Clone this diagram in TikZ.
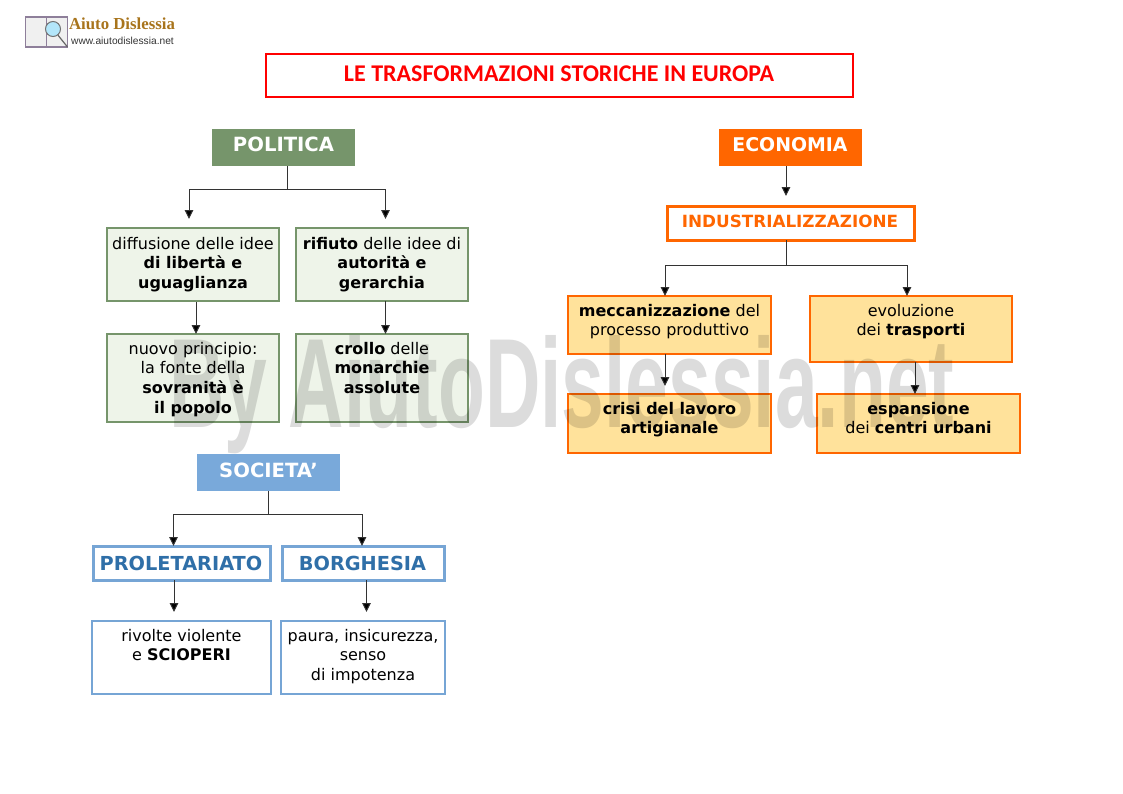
\documentclass[tikz,border=0pt]{standalone}
\usepackage{fontspec}
\usepackage{graphicx}
\setmainfont{DejaVu Sans}
\newfontfamily\titlefont{Carlito}
\newfontfamily\wmfont{Liberation Sans}
\newfontfamily\urlfont{Liberation Sans}
\newfontfamily\logofont{Liberation Serif}
\usetikzlibrary{arrows.meta}
\definecolor{redline}{HTML}{FF0000}
\definecolor{polgreen}{HTML}{76956B}
\definecolor{polfill}{HTML}{EEF4E9}
\definecolor{socblue}{HTML}{79A9DA}
\definecolor{socline}{HTML}{76A5D5}
\definecolor{soctext}{HTML}{2F6FA8}
\definecolor{ecoorange}{HTML}{FF6600}
\definecolor{ecofill}{HTML}{FFE29B}
\definecolor{wm}{HTML}{DCDCDC}
\definecolor{logogold}{HTML}{A8741C}
\definecolor{bookline}{HTML}{8E7F9A}
\newcommand{\bodyfont}{\fontsize{16}{19.6}\selectfont}
\newcommand{\headfont}{\fontsize{19.6}{22}\selectfont\bfseries}
\newcommand{\subfont}{\fontsize{19.3}{22}\selectfont\bfseries}
% name, x1, y1, x2, y2, style
\newcommand{\rbox}[6]{\node[#6,minimum width=#4pt-#2pt,minimum height=#5pt-#3pt] (#1) at ({(#2+#4)/2},{(#3+#5)/2}) {};}
% name, box name, y of the first text line's top, text
\newcommand{\rtext}[4]{\node[bodytext] (#1) at (#2.center |- 0,#3) {#4};}
\tikzset{
  x=1pt,y=-1pt,
  boxbase/.style={rectangle,inner sep=0pt,outer sep=0pt},
  headbox/.style={boxbase,fill=#1},
  greenbox/.style={boxbase,draw=polgreen,line width=2.4pt,fill=polfill},
  bluebox/.style={boxbase,draw=socline,line width=2.2pt,fill=white},
  bluehead/.style={boxbase,draw=socline,line width=3pt,fill=white},
  orangebox/.style={boxbase,draw=ecoorange,line width=2.4pt,fill=ecofill},
  bodytext/.style={anchor=north,inner sep=0pt,align=center,font=\bodyfont,text=black},
  conn/.style={draw=black!80,line width=1pt},
  arr/.style={conn,-{Triangle[length=9pt,width=8.5pt,fill=black]}},
}
\begin{document}
\begin{tikzpicture}
\useasboundingbox (0,0) rectangle (1123,793);
% logo
\node[boxbase,draw=bookline,fill=black!6,line width=1.2pt,minimum width=21pt,minimum height=30pt] (bookl) at (36,32) {};
\node[boxbase,draw=bookline,fill=black!6,line width=1.2pt,minimum width=21pt,minimum height=30pt] (bookr) at (57,32) {};
\node[circle,draw=black!55,fill=cyan!30,line width=1pt,minimum size=15pt,inner sep=0pt] (lens) at (53,29) {};
\draw[black!60,line width=1.2pt] (lens) -- (bookr.south east);
\node[font=\logofont\fontsize{16.8}{18}\selectfont\bfseries,text=logogold,inner sep=0pt] (logotxt) at (122,24) {Aiuto Dislessia};
\node[font=\urlfont\fontsize{10.2}{12}\selectfont,text=black!80,inner sep=0pt] (logourl) at (122.5,41) {www.aiutodislessia.net};
% title
\rbox{title}{266}{54}{853}{97}{boxbase,draw=redline,line width=1.6pt}
\node[font=\titlefont\fontsize{24}{28}\selectfont\bfseries,text=redline,inner sep=0pt] (titlet) at (559,74) {LE TRASFORMAZIONI STORICHE IN EUROPA};
% POLITICA
\rbox{pol}{212}{129}{355}{166}{headbox=polgreen}
\node[font=\headfont,text=white,inner sep=0pt] (polt) at (283.5,144.5) {POLITICA};
\rbox{g1}{107}{228}{279}{301}{greenbox}
\rbox{g2}{296}{228}{468}{301}{greenbox}
\rbox{g3}{107}{334}{279}{422}{greenbox}
\rbox{g4}{296}{334}{468}{422}{greenbox}
\rtext{g1t}{g1}{237}{diffusione delle idee\\\textbf{di libertà e}\\\textbf{uguaglianza}}
\rtext{g2t}{g2}{237}{\textbf{rifiuto} delle idee di\\\textbf{autorità e}\\\textbf{gerarchia}}
\rtext{g3t}{g3}{342}{nuovo principio:\\la fonte della\\\textbf{sovranità è}\\\textbf{il popolo}}
\rtext{g4t}{g4}{342}{\textbf{crollo} delle\\\textbf{monarchie}\\\textbf{assolute}}
\coordinate (polj) at (287,189);
\coordinate (g1a) at (189,189);
\coordinate (g2a) at (385.5,189);
\coordinate (g1e) at (189,219);
\coordinate (g2e) at (385.5,219);
\draw[conn] (polj |- pol.south) -- (polj);
\draw[arr] (polj) -- (g1a) -- (g1e);
\draw[arr] (polj) -- (g2a) -- (g2e);
\coordinate (g13) at (196,302);
\draw[arr] (g13) -- (g13 |- g3.north);
\draw[arr] (g2.south -| g2e) -- (g4.north -| g2e);
% SOCIETA'
\rbox{soc}{197}{454}{340}{491}{headbox=socblue}
\node[font=\headfont,text=white,inner sep=0pt] (soct) at (268.5,470.5) {SOCIETA’};
\rbox{b1}{93}{546}{270}{580}{bluehead}
\rbox{b2}{282}{546}{444}{580}{bluehead}
\node[font=\subfont,text=soctext,inner sep=0pt] (b1t) at (181,563) {PROLETARIATO};
\node[font=\subfont,text=soctext,inner sep=0pt] (b2t) at (362.5,563) {BORGHESIA};
\rbox{b3}{92}{621}{271}{694}{bluebox}
\rbox{b4}{281}{621}{445}{694}{bluebox}
\rtext{b3t}{b3}{629}{rivolte violente\\e \textbf{SCIOPERI}}
\rtext{b4t}{b4}{629}{paura, insicurezza,\\senso\\di impotenza}
\coordinate (socj) at (268,514);
\coordinate (b1a) at (173.5,514);
\coordinate (b2a) at (362,514);
\draw[conn] (socj |- soc.south) -- (socj);
\draw[arr] (socj) -- (b1a) -- (b1a |- b1.north);
\draw[arr] (socj) -- (b2a) -- (b2a |- b2.north);
\coordinate (b1o) at (174,612);
\coordinate (b2o) at (366.5,612);
\draw[arr] (b1.south -| b1o) -- (b1o);
\draw[arr] (b2.south -| b2o) -- (b2o);
% ECONOMIA
\rbox{eco}{719}{129}{862}{166}{headbox=ecoorange}
\node[font=\fontsize{18.9}{22}\selectfont\bfseries,text=white,inner sep=0pt] (ecot) at (790,144.5) {ECONOMIA};
\rbox{ind}{667}{206}{914}{240}{boxbase,draw=ecoorange,line width=3pt,fill=white}
\node[font=\fontsize{16.8}{19}\selectfont\bfseries,text=ecoorange,inner sep=0pt] (indt) at (790,221.5) {INDUSTRIALIZZAZIONE};
\rbox{o1}{568}{296}{771}{354}{orangebox}
\rbox{o2}{810}{296}{1012}{362}{orangebox}
\rbox{o3}{568}{394}{771}{453}{orangebox}
\rbox{o4}{817}{394}{1020}{453}{orangebox}
\rtext{o1t}{o1}{304}{\textbf{meccanizzazione} del\\processo produttivo}
\rtext{o2t}{o2}{304}{evoluzione\\dei \textbf{trasporti}}
\rtext{o3t}{o3}{402}{\textbf{crisi del lavoro}\\\textbf{artigianale}}
\rtext{o4t}{o4}{402}{\textbf{espansione}\\dei \textbf{centri urbani}}
\coordinate (ecoa) at (786,196);
\draw[arr] (ecoa |- eco.south) -- (ecoa);
\coordinate (indj) at (786,265);
\coordinate (o1a) at (665,265);
\coordinate (o2a) at (907,265);
\draw[conn] (indj |- ind.south) -- (indj);
\draw[arr] (indj) -- (o1a) -- (o1a |- o1.north);
\draw[arr] (indj) -- (o2a) -- (o2a |- o2.north);
\coordinate (o13) at (665,386);
\draw[arr] (o1.south -| o1a) -- (o13);
\coordinate (o24) at (915,362);
\draw[arr] (o24) -- (o24 |- o4.north);
% watermark
\begin{scope}[blend mode=multiply]
\node[anchor=base,inner sep=0pt,text=wm] (wmark) at (562,427) {\resizebox{785pt}{92pt}{\wmfont\bfseries By AiutoDislessia.net}};
\end{scope}
\end{tikzpicture}
\end{document}
